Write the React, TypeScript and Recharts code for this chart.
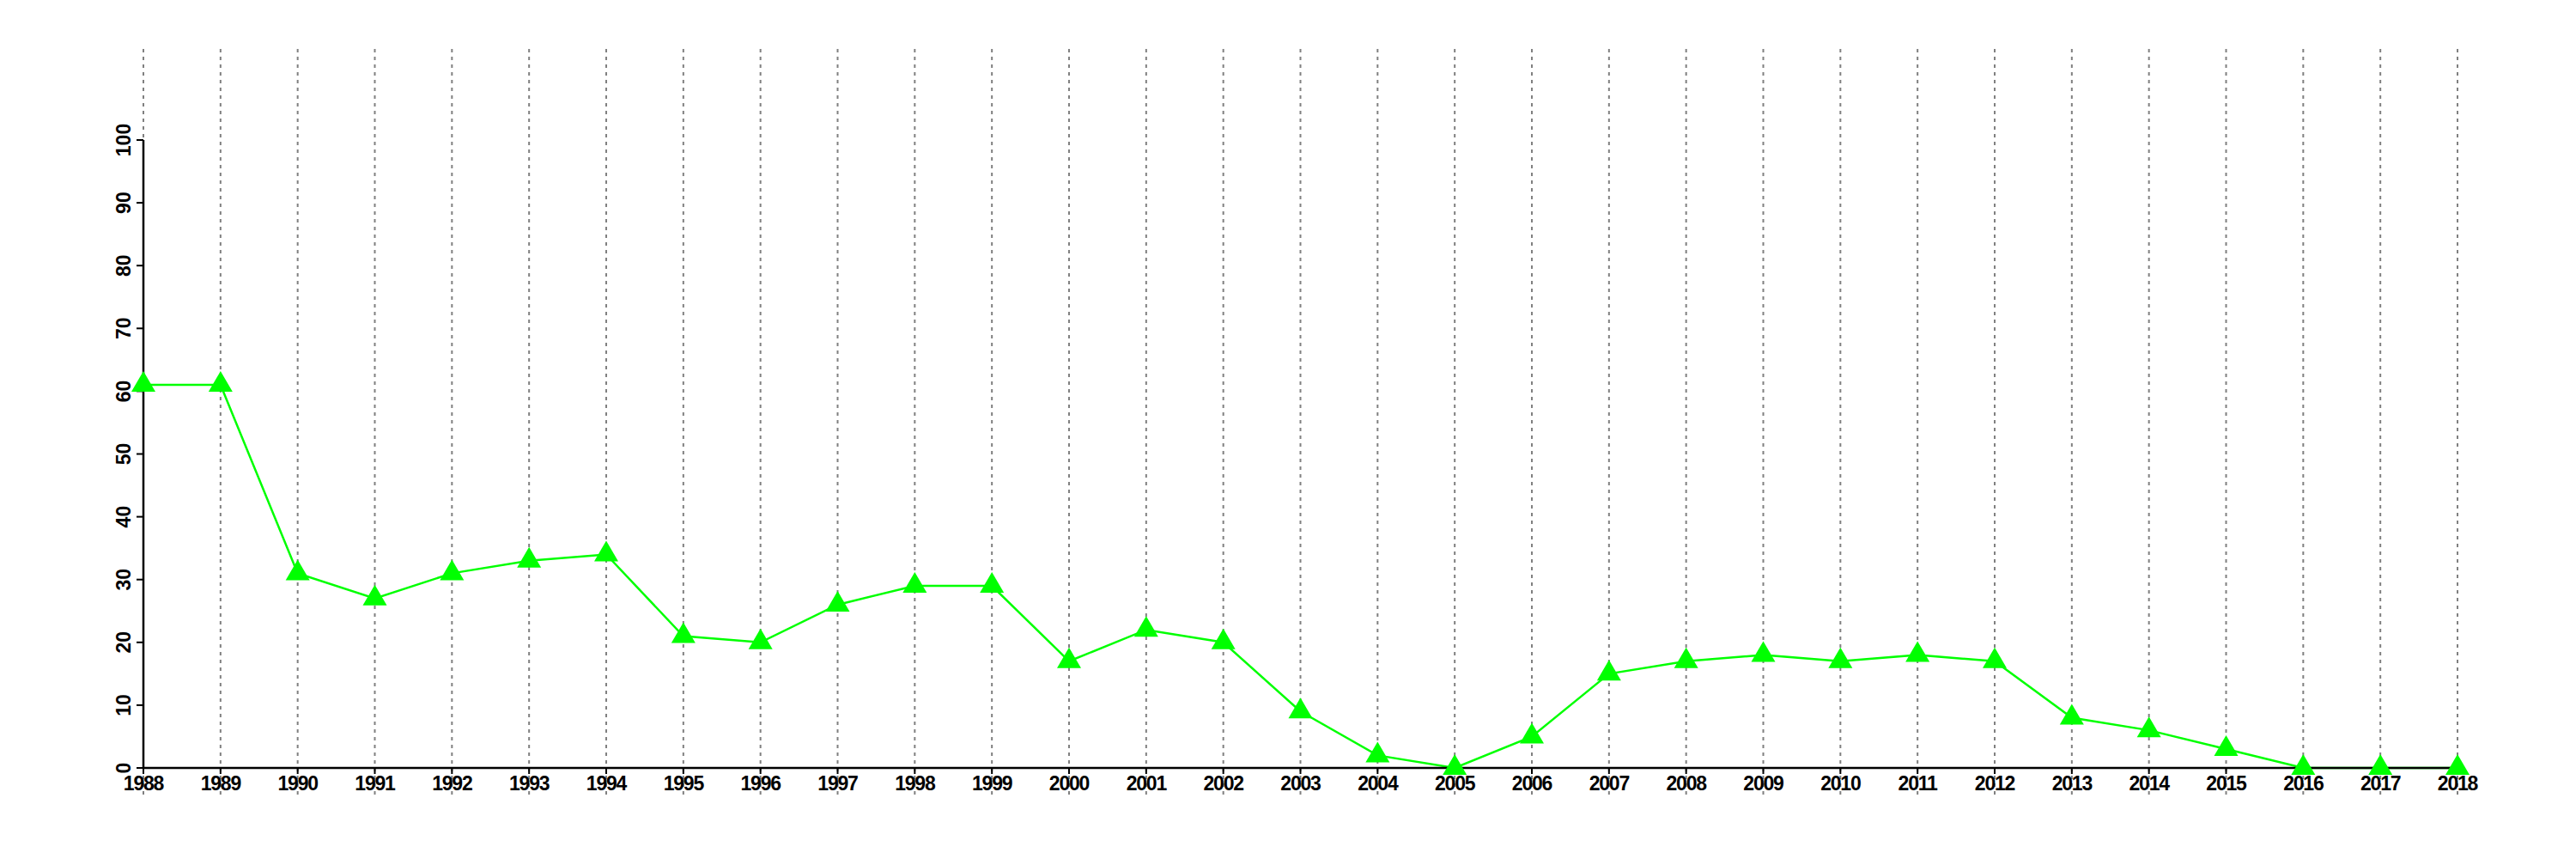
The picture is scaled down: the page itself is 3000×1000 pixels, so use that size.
// Yearly counts 1988-2018 as a green line with triangle markers and dotted year gridlines.
import React from "react";
import { LineChart, Line, XAxis, YAxis, CartesianGrid } from "recharts";

const years = [
  "1988", "1989", "1990", "1991", "1992", "1993", "1994", "1995", "1996", "1997",
  "1998", "1999", "2000", "2001", "2002", "2003", "2004", "2005", "2006", "2007",
  "2008", "2009", "2010", "2011", "2012", "2013", "2014", "2015", "2016", "2017",
  "2018",
];

const counts = [
  61, 61, 31, 27, 31, 33, 34, 21, 20, 26,
  29, 29, 17, 22, 20, 9, 2, 0, 5, 15,
  17, 18, 17, 18, 17, 8, 6, 3, 0, 0,
  0,
];

const yTicks = [0, 10, 20, 30, 40, 50, 60, 70, 80, 90, 100];

const data = years.map((year, i) => ({ year, value: counts[i] }));

const FONT = "'Liberation Sans', Arial, Helvetica, sans-serif";
const GREEN = "#00ff00";

const TriangleDot = (props: any) => {
  const { cx, cy, index } = props;
  if (cx == null || cy == null) return null;
  const half = 14;
  const d = `M${cx},${cy - 16} L${cx + half},${cy + 8} L${cx - half},${cy + 8} Z`;
  return <path key={`tri-${index}`} d={d} fill={GREEN} stroke="none" />;
};

const XTick = (props: any) => {
  const { x, y, payload } = props;
  return (
    <text
      x={x}
      y={y}
      textAnchor="middle"
      fontFamily={FONT}
      fontWeight="bold"
      fontSize={23}
      letterSpacing={-1.2}
      fill="#000"
    >
      {payload.value}
    </text>
  );
};

const YTick = (props: any) => {
  const { x, y, payload } = props;
  return (
    <text
      x={x}
      y={y}
      transform={`rotate(-90, ${x}, ${y})`}
      textAnchor="middle"
      fontFamily={FONT}
      fontWeight="bold"
      fontSize={23}
      fill="#000"
    >
      {payload.value}
    </text>
  );
};

// vertical grid lines run past the plot area, above the top tick and through the year labels
const GridLine = (props: any) => {
  const { x1, x2, y1, y2, index } = props;
  return (
    <line
      key={`vgrid-${index}`}
      x1={x1}
      x2={x2}
      y1={y1 - 106}
      y2={y2 + 33}
      stroke="#808080"
      strokeWidth={2}
      strokeDasharray="4 5"
    />
  );
};

export default function App() {
  return (
    <div style={{ position: "absolute", left: 0, top: 0, width: 3000, height: 1000, background: "#fff" }}>
      <LineChart
        width={3000}
        height={1000}
        data={data}
        margin={{ top: 163, right: 138, bottom: 46, left: 107 }}
      >
        <CartesianGrid horizontal={false} vertical={GridLine} />
        <XAxis
          dataKey="year"
          scale="point"
          padding={{ left: 0, right: 0 }}
          interval={0}
          height={60}
          tickSize={7}
          tickMargin={19}
          axisLine={{ stroke: "#000", strokeWidth: 2.5 }}
          tickLine={{ stroke: "#000", strokeWidth: 2 }}
          tick={<XTick />}
        />
        <YAxis
          domain={[0, 100]}
          ticks={yTicks}
          interval={0}
          width={60}
          tickSize={8}
          tickMargin={7}
          axisLine={{ stroke: "#000", strokeWidth: 2.5 }}
          tickLine={{ stroke: "#000", strokeWidth: 2 }}
          tick={<YTick />}
        />
        <Line
          type="linear"
          dataKey="value"
          stroke={GREEN}
          strokeWidth={2.5}
          dot={<TriangleDot />}
          activeDot={false}
          isAnimationActive={false}
        />
      </LineChart>
    </div>
  );
}
